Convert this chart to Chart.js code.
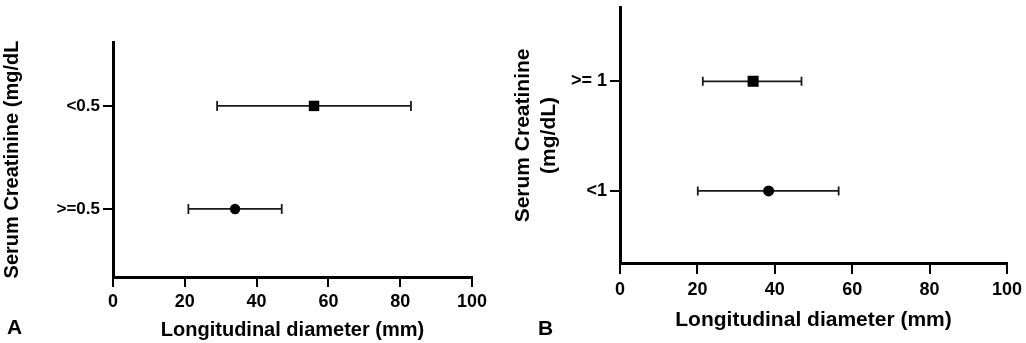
<!DOCTYPE html>
<html>
<head>
<meta charset="utf-8">
<script src="https://cdn.jsdelivr.net/npm/chart.js@4.4.1/dist/chart.umd.min.js"></script>
<style>
	html, body { margin: 0; padding: 0; background: #fff; }
	#wrap { position: relative; width: 1026px; height: 343px; overflow: hidden; }
	canvas { position: absolute; top: 0; }
	#chart-a { left: 0; }
	#chart-b { left: 511px; }
	.panel-tag {
		position: absolute;
		font: bold 21px "Liberation Sans", Arial, Helvetica, sans-serif;
		line-height: 21px;
		color: #000;
	}
</style>
</head>
<body>
<div id="wrap">
	<canvas id="chart-a" width="513" height="343"></canvas>
	<canvas id="chart-b" width="515" height="343"></canvas>
	<div class="panel-tag" style="left:7px;top:316px">A</div>
	<div class="panel-tag" style="left:538px;top:317px">B</div>
</div>
<script>
// Shared x ticks (mm)
const X_TICKS = [0, 20, 40, 60, 80, 100];

// Panel A: serum creatinine cut-off 0.5 mg/dL
const CATS_A = ["<0.5", ">=0.5"];
const MEAN_A = [56, 34];
const LOW_A = [29, 21];
const HIGH_A = [83, 47];
const MARKS_A = ["rect", "circle"];

// Panel B: serum creatinine cut-off 1 mg/dL
const CATS_B = [">= 1", "<1"];
const MEAN_B = [34.4, 38.4];
const LOW_B = [21.4, 20.1];
const HIGH_B = [46.9, 56.5];
const MARKS_B = ["rect", "circle"];

const FONT = "'Liberation Sans', Arial, Helvetica, sans-serif";
const INK = "#000";
const WHISKER = "#1a1a1a";

const forestPlot = (id, p) => {
	const WRAPPER = document.getElementById(id);

	// error bars: one short line per category, caps drawn as rotated line points
	const whiskers = p.cats.map((c, i) => ({
		data: [{ x: p.low[i], y: i }, { x: p.high[i], y: i }],
		showLine: true,
		borderColor: WHISKER,
		borderWidth: 1.8,
		pointStyle: "line",
		pointRotation: 90,
		pointRadius: p.cap,
		pointBorderColor: WHISKER,
		pointBorderWidth: 1.8,
		order: 2,
	}));

	const DATA = {
		datasets: [
			{
				data: p.cats.map((c, i) => ({ x: p.mean[i], y: i })),
				pointStyle: p.marks,
				pointRadius: p.marks.map((m) => (m === "rect" ? p.rect : p.dot)),
				pointBackgroundColor: "#000",
				pointBorderWidth: 0,
				order: 1,
			},
			...whiskers,
		],
	};

	const tickFont = { family: FONT, size: p.tickSize, weight: "bold" };

	const CONFIG = {
		type: "scatter",
		data: DATA,
		options: {
			responsive: false,
			animation: false,
			layout: {
				padding: { top: p.top, right: p.right, left: 0, bottom: 0 },
			},
			plugins: {
				legend: { display: false },
				tooltip: { enabled: false },
			},
			scales: {
				x: {
					type: "linear",
					min: 0,
					max: 100,
					afterBuildTicks: (s) => {
						s.ticks = X_TICKS.map((v) => ({ value: v }));
					},
					afterFit: (s) => {
						s.height = p.xHeight;
						s.paddingLeft = 0;
						s.paddingRight = 0;
					},
					border: { display: true, color: "#000", width: 3 },
					grid: {
						drawOnChartArea: false,
						tickLength: p.xTick,
						lineWidth: 2,
						color: "#000",
					},
					ticks: {
						font: tickFont,
						color: INK,
						padding: p.xTickPad,
						maxRotation: 0,
					},
					title: {
						display: true,
						text: "Longitudinal diameter (mm)",
						color: INK,
						font: { family: FONT, size: p.titleSize, weight: "bold" },
						padding: { top: 0, bottom: p.xTitlePad },
					},
				},
				y: {
					type: "linear",
					reverse: true,
					min: p.yMin,
					max: p.yMax,
					afterBuildTicks: (s) => {
						s.ticks = p.cats.map((c, i) => ({ value: i }));
					},
					afterFit: (s) => {
						s.width = p.yWidth;
						s.paddingTop = 0;
						s.paddingBottom = 0;
					},
					border: { display: true, color: "#000", width: 3 },
					grid: {
						drawOnChartArea: false,
						tickLength: 10,
						lineWidth: 2,
						color: "#000",
					},
					ticks: {
						font: { family: FONT, size: p.catSize, weight: "bold" },
						color: INK,
						padding: 3,
						callback: (v) => p.cats[v],
					},
					title: {
						display: true,
						text: p.yTitle,
						color: INK,
						font: { family: FONT, size: p.titleSize, weight: "bold", lineHeight: 1.2 },
						padding: { top: 0, bottom: 0 },
					},
				},
			},
		},
	};

	if (WRAPPER) {
		new Chart(WRAPPER, CONFIG);
	}
};

forestPlot("chart-a", {
	cats: CATS_A, mean: MEAN_A, low: LOW_A, high: HIGH_A, marks: MARKS_A,
	yTitle: "Serum Creatinine (mg/dL",
	top: 42, right: 41, yWidth: 113, xHeight: 66,
	yMin: -0.62, yMax: 1.66,
	xTick: 10, xTickPad: 4, xTitlePad: 1,
	tickSize: 18, catSize: 17, titleSize: 20,
	rect: 7.4, dot: 5.2, cap: 5,
});

forestPlot("chart-b", {
	cats: CATS_B, mean: MEAN_B, low: LOW_B, high: HIGH_B, marks: MARKS_B,
	yTitle: ["Serum Creatinine", "(mg/dL)"],
	top: 7, right: 19, yWidth: 109, xHeight: 80,
	yMin: -0.67, yMax: 1.657,
	xTick: 11, xTickPad: 5, xTitlePad: 10,
	tickSize: 18, catSize: 18, titleSize: 21,
	rect: 7.8, dot: 5.5, cap: 4.5,
});
</script>
</body>
</html>
